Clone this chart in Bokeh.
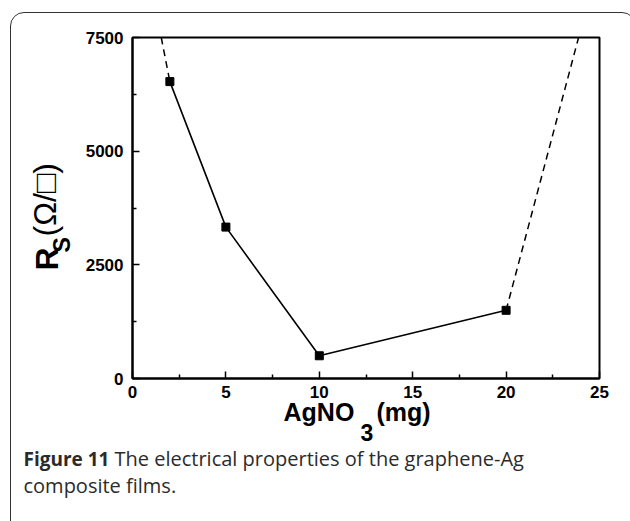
from bokeh.plotting import figure
from bokeh.models import FixedTicker, Label
from bokeh.embed import file_html
from bokeh.resources import INLINE

# Sheet resistance of graphene-Ag films versus AgNO3 loading
agno3_mg = [2, 5, 10, 20]
sheet_res = [6530, 3330, 500, 1500]

# dashed trend continuations beyond the measured range
trend_low_x = [1.54, 2]
trend_low_y = [7500, 6530]
trend_high_x = [20, 23.88]
trend_high_y = [1500, 7500]

x_ticks = [0, 5, 10, 15, 20, 25]
y_ticks = [0, 2500, 5000, 7500]

L, T = 132, 37          # frame offset on the canvas
FW, FH = 467, 341       # frame size

p = figure(frame_width=FW, frame_height=FH, x_range=(0, 25), y_range=(0, 7500),
           output_backend="svg", toolbar_location=None,
           min_border_left=L, min_border_right=31,
           min_border_top=T, min_border_bottom=143)
p.background_fill_color = "white"
p.border_fill_color = "white"
p.grid.visible = False
p.outline_line_color = "black"
p.outline_line_width = 2

mid = lambda t: [(a + b) / 2 for a, b in zip(t[:-1], t[1:])]
p.xaxis.ticker = FixedTicker(ticks=x_ticks, minor_ticks=mid(x_ticks))
p.yaxis.ticker = FixedTicker(ticks=y_ticks, minor_ticks=mid(y_ticks))

for ax in (p.xaxis[0], p.yaxis[0]):
    ax.axis_line_width = 2
    ax.axis_line_color = "black"
    ax.major_tick_in = 7
    ax.major_tick_out = 0
    ax.minor_tick_in = 4
    ax.minor_tick_out = 0
    ax.major_tick_line_width = 1.5
    ax.minor_tick_line_width = 1.5
    ax.major_label_text_font = "Liberation Sans"
    ax.major_label_text_font_style = "bold"
    ax.major_label_text_font_size = "17px"
    ax.major_label_text_color = "black"
p.xaxis.major_label_standoff = 7
p.yaxis.major_label_standoff = 9

p.line(trend_low_x, trend_low_y, line_color="black", line_width=1.5, line_dash="7 5")
p.line(trend_high_x, trend_high_y, line_color="black", line_width=1.5, line_dash="7 5")
p.line(agno3_mg, sheet_res, line_color="black", line_width=1.6)
p.scatter(agno3_mg, sheet_res, marker="square", size=8, color="black")

BASE_FIX = 0.36  # em; the label anchor sits a little below the glyph baseline


def lab(text, cx, cy, size, bold=True, rotated=False, font="Liberation Sans", color="black"):
    # texts live in the lower side panel so they are not clipped to the frame
    if rotated:
        cx -= BASE_FIX * size
    else:
        cy -= BASE_FIX * size
    p.add_layout(Label(x=cx, y=cy, x_units="canvas", y_units="canvas",
                       text=text, text_font=font, text_font_size=f"{size}px",
                       text_font_style="bold" if bold else "normal",
                       text_color=color, text_align="left", text_baseline="alphabetic",
                       angle=90 if rotated else 0, angle_units="deg"), "below")


# x-axis title: AgNO3(mg)
lab("AgNO", 283, 420, 25)
lab("3", 360, 440.5, 23)
lab("(mg)", 376, 420, 25)

# y-axis title: R_S (Ω/□)
lab("R", 58, 270, 32, rotated=True)
lab("S", 70, 252, 23, rotated=True)
lab("(Ω/□)", 56, 236, 32, bold=False, rotated=True)

# caption
cap = "#2b2b2b"
lab("Figure 11", 23, 465, 19, font="Open Sans", color=cap)
lab("The electrical properties of the graphene-Ag", 114, 465, 20, bold=False, font="Open Sans", color=cap)
lab("composite films.", 23, 492, 20, bold=False, font="Open Sans", color=cap)

html = file_html(p, INLINE)
# page chrome: rounded panel outline around the figure, no scrollbars
panel = ('<div style="position:absolute;left:10px;top:12px;width:626px;height:600px;'
         'border:1.5px solid #333;border-radius:14px;box-sizing:border-box;'
         'pointer-events:none"></div>')
html = html.replace("</head>", "<style>html,body{overflow:hidden}</style></head>", 1)
html = html.replace("</body>", panel + "</body>", 1)
open("out.html", "w").write(html)
